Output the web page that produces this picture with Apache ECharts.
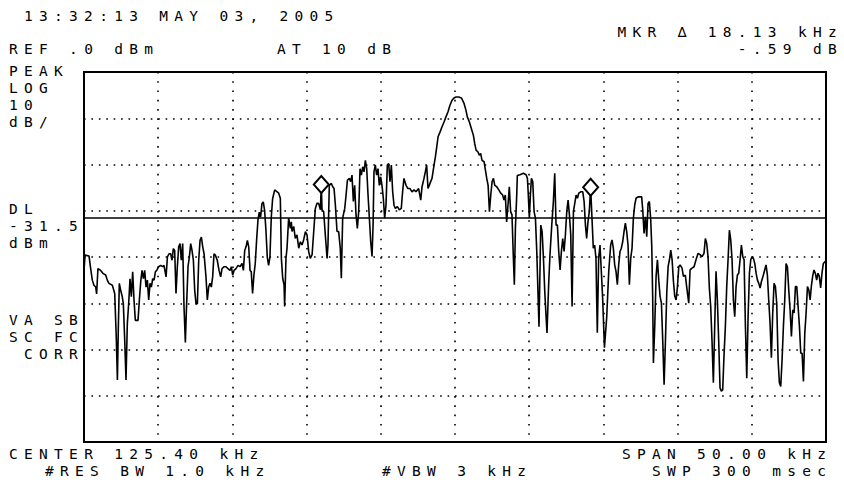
<!DOCTYPE html>
<html><head><meta charset="utf-8">
<script src="https://cdn.jsdelivr.net/npm/echarts@6/dist/echarts.min.js"></script>
<style>
html,body{margin:0;padding:0;background:#fff;}
#chart{width:844px;height:489px;letter-spacing:6.3px;}
</style></head><body><div id="chart"></div>
<script>
// Sweep: center 125.40 kHz, span 50.00 kHz
const freqStartKHz = 100.4;
const freqStopKHz = 150.4;
const refLevelDbm = 0;
const bottomLevelDbm = -80;
const displayLineDbm = -31.5;
const divFreqKHz = 5;
const divLevelDb = 10;

const traceFreqKHz = [
100.40,100.47,100.74,100.85,100.96,101.07,101.19,101.25,101.34,101.52,
101.70,101.86,101.97,102.08,102.31,102.47,102.58,102.65,102.71,102.78,
102.87,102.98,103.05,103.14,103.23,103.32,103.41,103.50,103.59,103.68,
103.77,103.86,104.04,104.13,104.22,104.31,104.40,104.49,104.58,104.67,
104.76,104.85,104.94,105.03,105.12,105.21,105.30,105.43,105.57,105.70,
105.79,105.93,106.02,106.13,106.24,106.33,106.42,106.51,106.60,106.69,
106.78,106.87,106.96,107.05,107.14,107.23,107.30,107.41,107.50,107.59,
107.68,107.77,107.86,107.95,108.04,108.13,108.22,108.31,108.40,108.49,
108.62,108.71,108.80,108.89,108.98,109.07,109.16,109.25,109.38,109.50,
109.61,109.70,109.83,109.97,110.10,110.24,110.33,110.42,110.51,110.64,
110.78,110.91,111.05,111.14,111.23,111.32,111.41,111.50,111.59,111.67,
111.76,111.85,111.94,112.03,112.12,112.21,112.30,112.39,112.48,112.57,
112.66,112.75,112.84,112.93,113.02,113.11,113.25,113.52,113.63,113.70,
113.79,113.88,113.92,114.01,114.08,114.19,114.31,114.37,114.42,114.53,
114.64,114.75,114.87,114.98,115.09,115.20,115.32,115.43,115.54,115.65,
115.77,115.88,115.99,116.10,116.21,116.33,116.39,116.44,116.55,116.66,
116.78,116.84,116.93,117.07,117.16,117.25,117.34,117.45,117.56,117.67,
117.74,117.83,117.97,118.06,118.15,118.28,118.37,118.46,118.55,118.64,
118.73,118.82,118.91,119.00,119.09,119.18,119.27,119.36,119.45,119.54,
119.63,119.72,119.81,119.88,119.94,120.03,120.12,120.21,120.30,120.39,
120.48,120.57,120.66,120.75,120.84,120.93,121.02,121.11,121.20,121.29,
121.38,121.52,121.65,121.78,121.87,121.96,122.10,122.23,122.37,122.50,
122.64,122.77,122.95,123.09,123.18,123.31,123.40,123.49,123.58,123.67,
123.76,123.85,123.99,124.08,124.17,124.26,124.39,124.52,124.66,124.79,
124.93,125.06,125.20,125.33,125.47,125.65,125.83,126.01,126.14,126.23,
126.37,126.50,126.64,126.73,126.82,126.95,127.04,127.13,127.22,127.36,
127.45,127.54,127.63,127.72,127.81,127.90,127.99,128.08,128.21,128.35,
128.48,128.61,128.70,128.79,128.88,128.97,129.06,129.15,129.24,129.33,
129.40,129.47,129.56,129.60,129.78,130.01,130.19,130.28,130.34,130.41,
130.48,130.55,130.64,130.73,130.82,130.91,130.97,131.06,131.18,131.27,
131.36,131.45,131.53,131.60,131.71,131.80,131.92,132.03,132.12,132.21,
132.30,132.39,132.48,132.57,132.66,132.75,132.84,132.93,133.02,133.11,
133.20,133.29,133.38,133.47,133.56,133.65,133.74,133.87,134.01,134.10,
134.19,134.27,134.36,134.45,134.54,134.63,134.72,134.81,134.90,134.95,
134.99,135.08,135.17,135.26,135.35,135.47,135.62,135.76,135.89,135.98,
136.07,136.16,136.25,136.34,136.43,136.52,136.61,136.70,136.79,136.88,
136.97,137.06,137.15,137.24,137.33,137.42,137.51,137.60,137.73,137.98,
138.05,138.14,138.23,138.32,138.41,138.50,138.59,138.66,138.72,138.77,
138.86,138.95,139.04,139.13,139.22,139.31,139.40,139.49,139.58,139.67,
139.76,139.85,139.94,140.03,140.12,140.21,140.30,140.39,140.48,140.57,
140.70,140.79,140.92,141.01,141.15,141.24,141.37,141.51,141.64,141.78,
141.91,142.05,142.18,142.27,142.36,142.45,142.54,142.63,142.72,142.81,
142.90,142.99,143.08,143.17,143.26,143.35,143.44,143.53,143.62,143.71,
143.80,143.89,143.98,144.07,144.16,144.25,144.34,144.43,144.52,144.61,
144.70,144.79,144.88,144.97,145.06,145.15,145.24,145.33,145.42,145.51,
145.60,145.69,145.78,145.87,145.96,146.05,146.18,146.27,146.36,146.45,
146.54,146.63,146.72,146.81,146.90,146.99,147.08,147.17,147.26,147.35,
147.44,147.53,147.62,147.71,147.80,147.89,147.98,148.07,148.16,148.25,
148.34,148.43,148.52,148.61,148.70,148.79,148.88,148.97,149.06,149.15,
149.24,149.33,149.41,149.50,149.59,149.68,149.77,149.86,149.95,150.04,
150.13,150.22,150.34,150.40
];

const traceLevelDbm = [
-42.9,-39.6,-39.8,-42.5,-45.0,-46.1,-46.5,-48.0,-42.5,-42.9,
-43.6,-43.9,-45.0,-45.7,-46.1,-47.9,-57.9,-66.6,-55.8,-45.7,
-47.2,-48.6,-50.1,-57.6,-66.6,-54.4,-50.1,-44.7,-48.6,-43.2,
-49.3,-53.7,-53.7,-49.3,-45.4,-42.9,-44.7,-42.9,-46.5,-45.0,
-49.3,-45.7,-46.5,-44.7,-45.0,-43.2,-42.9,-42.1,-41.8,-42.1,
-41.8,-44.3,-40.0,-39.3,-39.3,-40.7,-38.2,-38.6,-47.9,-42.1,
-37.8,-37.1,-40.7,-37.1,-50.8,-58.5,-51.5,-42.1,-40.0,-37.1,
-38.6,-40.7,-47.2,-50.1,-50.1,-40.7,-36.4,-35.7,-37.8,-39.3,
-44.3,-49.3,-46.5,-45.7,-46.5,-44.3,-39.3,-39.6,-40.7,-42.9,
-44.3,-42.5,-42.1,-42.1,-42.5,-42.9,-42.1,-43.9,-42.9,-42.5,
-41.8,-42.1,-41.4,-42.9,-38.6,-37.8,-36.4,-37.8,-42.9,-43.2,
-47.9,-43.9,-41.4,-36.4,-32.1,-30.3,-31.4,-28.5,-28.1,-29.9,
-34.2,-40.0,-41.8,-40.0,-31.4,-27.4,-25.5,-26.2,-27.3,-40.3,
-44.6,-46.0,-50.7,-40.3,-38.1,-31.6,-33.8,-32.4,-34.5,-33.4,
-36.0,-35.2,-38.1,-36.7,-37.4,-36.3,-34.5,-35.2,-38.8,-40.3,
-39.5,-34.5,-29.5,-28.4,-28.4,-29.8,-24.3,-29.8,-30.2,-35.2,
-40.3,-37.4,-24.5,-24.1,-24.8,-25.2,-28.8,-34.5,-34.5,-38.1,
-44.6,-31.6,-29.5,-26.6,-23.4,-23.0,-23.7,-22.3,-28.0,-24.5,
-30.9,-33.8,-30.2,-20.9,-22.3,-20.5,-21.6,-19.1,-20.9,-26.6,
-31.6,-36.7,-39.9,-33.1,-21.6,-20.1,-22.3,-20.9,-24.5,-22.7,
-24.5,-27.3,-31.6,-28.8,-20.1,-19.8,-23.7,-20.1,-25.9,-28.8,
-29.5,-29.1,-29.8,-29.5,-25.9,-23.0,-24.5,-25.2,-25.2,-25.9,
-25.5,-25.9,-25.2,-27.7,-24.8,-23.0,-21.6,-20.1,-25.2,-24.5,
-23.7,-23.0,-20.1,-18.3,-16.2,-14.0,-13.0,-11.9,-10.8,-9.7,
-8.6,-7.2,-6.1,-5.6,-5.4,-5.4,-5.6,-6.8,-8.3,-9.7,
-10.8,-12.2,-13.7,-15.5,-16.9,-17.3,-18.0,-17.6,-19.1,-19.4,
-21.2,-23.0,-24.5,-30.2,-26.6,-23.7,-23.0,-24.5,-24.8,-25.5,
-26.2,-26.6,-27.7,-26.6,-32.4,-28.8,-24.8,-30.2,-30.9,-39.9,
-46.0,-33.8,-26.6,-22.4,-22.2,-21.9,-22.2,-23.0,-26.6,-31.6,
-26.6,-23.0,-23.7,-30.2,-31.6,-38.8,-45.3,-55.1,-33.1,-34.5,
-40.3,-47.5,-52.5,-56.4,-46.0,-39.5,-33.1,-28.0,-21.9,-33.1,
-33.1,-38.8,-42.8,-38.8,-36.0,-38.8,-35.2,-30.2,-27.7,-30.9,
-35.2,-50.7,-30.2,-28.4,-26.6,-27.3,-26.2,-25.9,-25.9,-28.0,
-33.1,-36.0,-32.4,-30.2,-24.9,-31.6,-38.1,-37.4,-40.3,-49.6,
-56.4,-40.3,-37.4,-43.1,-48.9,-59.6,-53.2,-43.1,-37.4,-36.3,
-38.1,-41.7,-43.1,-46.0,-41.7,-38.8,-38.1,-36.7,-34.5,-32.7,
-34.5,-37.4,-46.0,-40.3,-38.1,-31.6,-28.8,-27.3,-27.0,-27.0,
-29.8,-34.9,-31.3,-35.6,-28.4,-28.0,-32.0,-37.8,-48.5,-62.9,
-55.0,-44.2,-40.6,-45.0,-48.5,-50.0,-58.2,-67.6,-58.2,-47.8,
-42.1,-40.6,-38.5,-40.6,-45.3,-48.5,-49.3,-46.4,-42.1,-41.7,
-42.4,-44.2,-43.9,-46.4,-50.0,-42.8,-42.4,-42.1,-40.6,-39.2,
-39.5,-39.9,-39.2,-36.0,-37.0,-39.9,-46.7,-50.7,-58.2,-67.2,
-55.0,-43.1,-49.3,-58.2,-68.3,-69.0,-68.7,-61.1,-55.0,-46.4,
-40.6,-34.2,-36.3,-40.6,-49.3,-52.9,-46.4,-43.9,-43.5,-40.6,
-37.4,-39.9,-40.6,-55.0,-66.2,-52.9,-43.5,-40.6,-39.9,-40.3,
-41.4,-43.5,-45.0,-45.7,-46.7,-45.3,-43.9,-42.8,-41.7,-43.9,
-49.3,-54.3,-61.8,-52.1,-45.7,-46.4,-50.0,-62.2,-67.2,-68.0,
-62.2,-55.0,-49.3,-41.4,-42.1,-47.1,-51.4,-57.2,-51.4,-52.1,
-46.4,-46.4,-50.7,-55.0,-60.8,-60.8,-66.9,-56.5,-52.1,-46.4,
-47.1,-49.3,-46.4,-44.2,-42.8,-43.5,-45.0,-43.5,-44.2,-46.7,
-43.5,-41.4,-41.0,-41.0
];

const markerFreqKHz = [116.39, 134.54];
const markerLevelDbm = [-24.3, -24.9];

const headerTexts = {
  time: '13:32:13 MAY 03, 2005',
  ref: 'REF .0 dBm',
  atten: 'AT 10 dB',
  mkr: 'MKR \u2206 18.13 kHz',
  mkrDb: '-.59 dB'
};
const scaleTexts = ['PEAK', 'LOG', '10', 'dB/'];
const displayLineTexts = ['DL', '-31.5', 'dBm'];
const statusTexts = ['VA SB', 'SC FC', '\u00A0CORR'];
const footerTexts = ['CENTER 125.40 kHz', '#RES BW 1.0 kHz', '#VBW 3 kHz', 'SPAN 50.00 kHz', 'SWP 300 msec'];

const FONT = '14.5px "DejaVu Sans Mono"';
const LH = 17.2;
function txt(t, x, y, align) {
  return { type: 'text', x: x, y: y, silent: true,
    style: { text: t, font: FONT, fill: '#000', align: align || 'left', verticalAlign: 'middle' } };
}
// multi-line block centred on yCenter
function block(lines, x, yCenter, align) {
  return { type: 'text', x: x, y: yCenter - lines.length * LH / 2, silent: true,
    style: { text: lines.join('\n'), font: FONT, fill: '#000', lineHeight: LH,
      align: align || 'left', verticalAlign: 'top' } };
}

const n = Math.min(traceFreqKHz.length, traceLevelDbm.length);
const traceData = [];
for (let i = 0; i < n; i++) traceData.push([traceFreqKHz[i], traceLevelDbm[i]]);
const markerData = markerFreqKHz.map((f, i) => [f, markerLevelDbm[i]]);

const chart = echarts.init(document.getElementById('chart'), null, { renderer: 'svg' });
chart.setOption({
  animation: false,
  backgroundColor: '#fff',
  grid: { left: 84, right: 18, top: 72, bottom: 47, show: true, borderColor: '#000', borderWidth: 2, backgroundColor: 'transparent' },
  xAxis: {
    type: 'value', min: freqStartKHz, max: freqStopKHz, interval: divFreqKHz,
    axisLine: { show: false }, axisTick: { show: false }, axisLabel: { show: false },
    splitLine: { show: true, lineStyle: { color: '#000', width: 1.6, type: [1.6, 7.66] } }
  },
  yAxis: {
    type: 'value', min: bottomLevelDbm, max: refLevelDbm, interval: divLevelDb,
    axisLine: { show: false }, axisTick: { show: false }, axisLabel: { show: false },
    splitLine: { show: true, lineStyle: { color: '#000', width: 1.6, type: [1.6, 5.82] } }
  },
  series: [
    {
      type: 'line', data: traceData, showSymbol: false, symbol: 'none',
      lineStyle: { color: '#000', width: 1.6 }, z: 3,
      markLine: {
        silent: true, symbol: 'none', label: { show: false },
        lineStyle: { color: '#000', type: 'solid', width: 1.6 },
        data: [{ yAxis: displayLineDbm }]
      }
    },
    {
      type: 'scatter', data: markerData, symbol: 'diamond', symbolSize: [15, 17],
      itemStyle: { color: '#fff', borderColor: '#000', borderWidth: 2, opacity: 1 }, z: 5
    }
  ],
  graphic: [
    txt(headerTexts.time, 24, 16),
    txt(headerTexts.ref, 9, 49),
    txt(headerTexts.atten, 277, 49),
    block([headerTexts.mkr, headerTexts.mkrDb], 843, 40.75, 'right'),
    block(scaleTexts, 9, 96.5),
    block(displayLineTexts, 9, 226),
    block(statusTexts, 9, 337),
    txt(footerTexts[0], 9, 453.9),
    txt(footerTexts[1], 45, 471.1),
    txt(footerTexts[2], 382, 471.1),
    block([footerTexts[3], footerTexts[4]], 832.3, 462.5, 'right')
  ]
});
</script>
</body></html>
